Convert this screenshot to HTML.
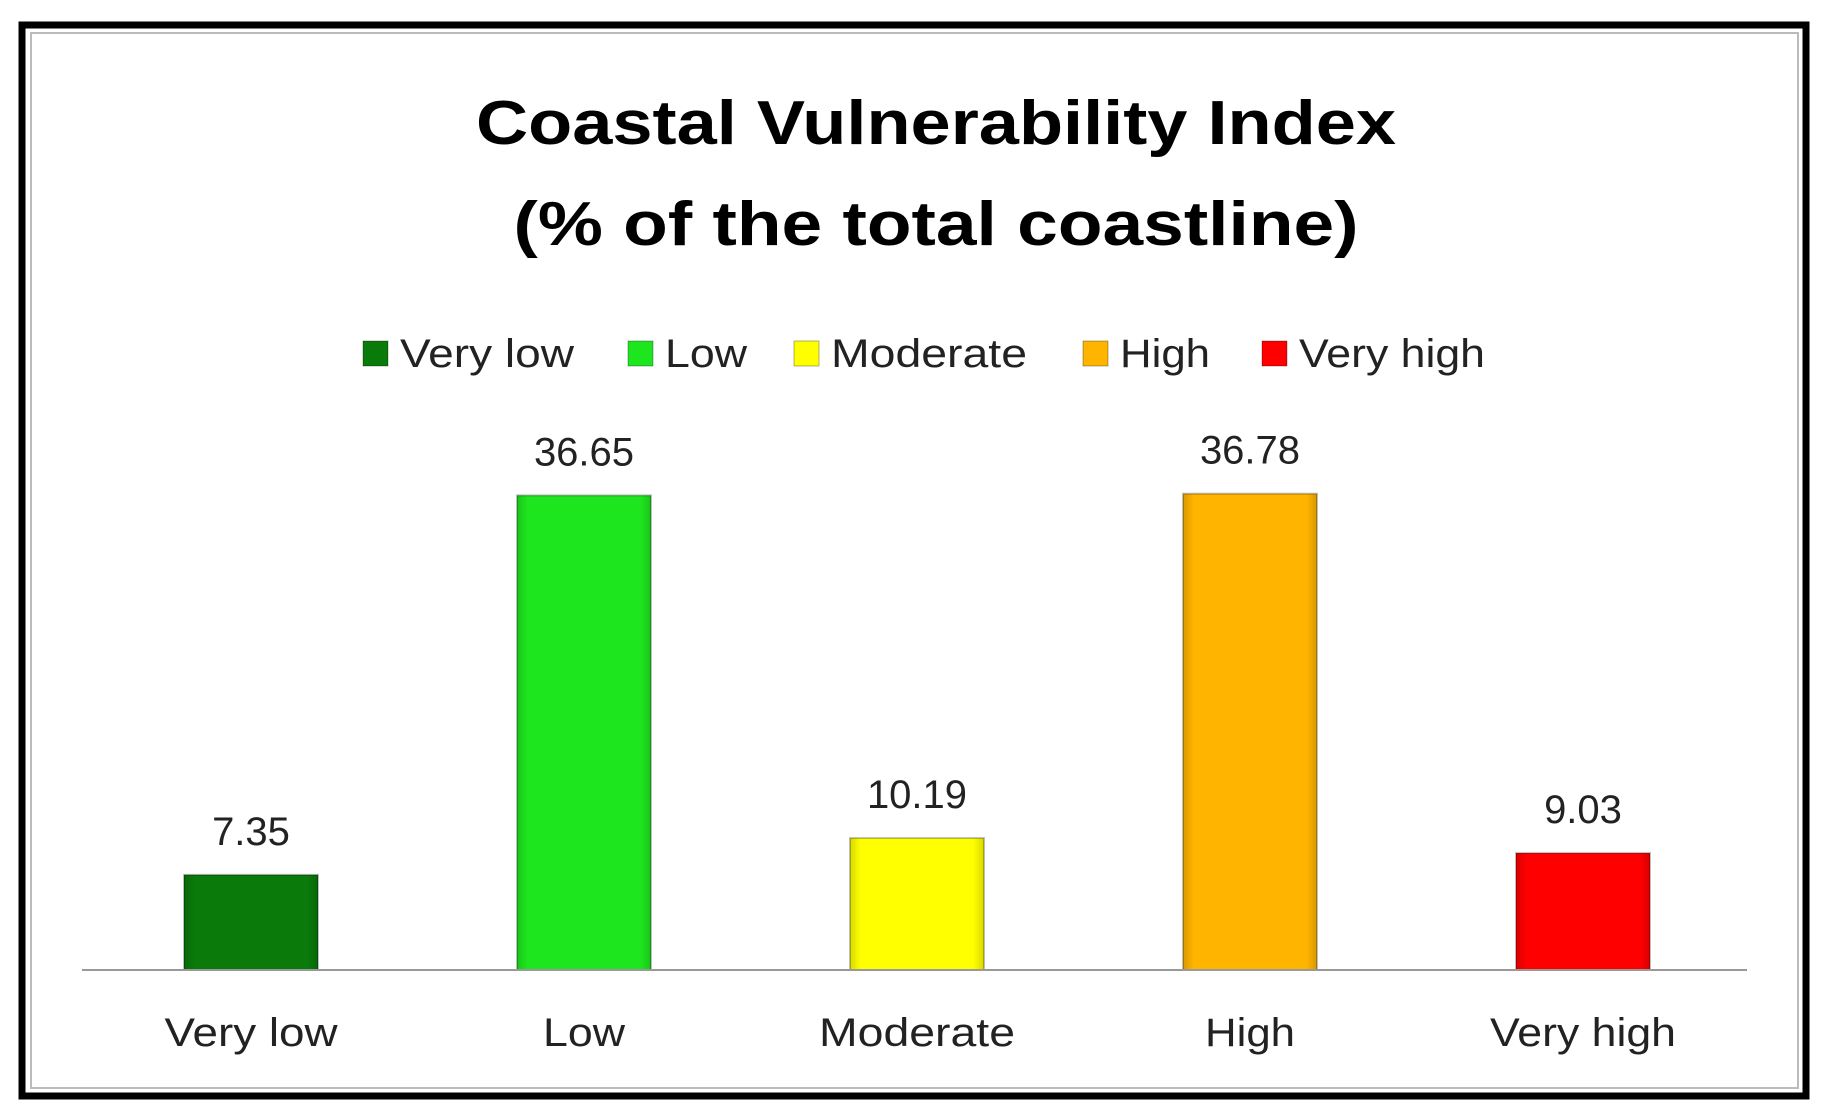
<!DOCTYPE html>
<html><head><meta charset="utf-8"><style>
html,body{margin:0;padding:0;background:#fff;}
svg{display:block;font-family:"Liberation Sans",sans-serif;}
</style></head><body>
<svg id="chart" width="1829" height="1115" viewBox="0 0 1829 1115">
<defs>
<linearGradient id="shade" x1="0" x2="1" y1="0" y2="0">
<stop offset="0" stop-color="#000" stop-opacity="0.15"/>
<stop offset="0.08" stop-color="#000" stop-opacity="0"/>
<stop offset="0.92" stop-color="#000" stop-opacity="0"/>
<stop offset="1" stop-color="#000" stop-opacity="0.15"/>
</linearGradient>
</defs>
<rect x="22" y="25" width="1784" height="1071" fill="#fff" stroke="#000" stroke-width="7"/>
<rect x="31" y="33" width="1767" height="1055" fill="none" stroke="#bbb" stroke-width="2"/>
<text x="936" y="144" text-anchor="middle" font-size="62" font-weight="bold" textLength="920" lengthAdjust="spacingAndGlyphs">Coastal Vulnerability Index</text>
<text x="936" y="245" text-anchor="middle" font-size="62" font-weight="bold" textLength="845" lengthAdjust="spacingAndGlyphs">(% of the total coastline)</text>
<g id="legend"></g>
<g id="bars"></g>
<line x1="82" y1="970" x2="1747" y2="970" stroke="#999" stroke-width="2"/>
</svg>
<script>
const categories = ["Very low","Low","Moderate","High","Very high"];
const values = [7.35,36.65,10.19,36.78,9.03];
const labels = ["7.35","36.65","10.19","36.78","9.03"];
const colors = ["#0a7a0a","#1ee61e","#ffff00","#ffb400","#ff0000"];
const legendX = [363,628,794,1083,1262];
const legendW = [174,82,196,90,186];
const catW = [173,82,196,90,186];
const NS="http://www.w3.org/2000/svg";
const x0=251, step=333, bw=134, baseY=970, pxPerUnit=12.95;
const xScale=i=>x0+i*step;
const yScale=v=>baseY-v*pxPerUnit;
const bars=document.getElementById('bars');
const legend=document.getElementById('legend');
function mk(t,a){const e=document.createElementNS(NS,t);for(const k in a)e.setAttribute(k,a[k]);return e;}
categories.forEach((c,i)=>{
  const cx=xScale(i), top=yScale(values[i]);
  const r=mk('rect',{x:cx-bw/2,y:top,width:bw,height:baseY-top,fill:colors[i],stroke:'rgba(0,0,0,0.25)','stroke-width':2});
  
  
  bars.appendChild(r);
  const sh=mk('rect',{x:cx-bw/2,y:top,width:bw,height:baseY-top,fill:'url(#shade)'});
  
  
  bars.appendChild(sh);
  const v=mk('text',{x:cx,y:top-30,'text-anchor':'middle','font-size':40,fill:'#222'});
  v.textContent=labels[i];
  
  
  bars.appendChild(v);
  const t=mk('text',{x:cx,y:1046,'text-anchor':'middle','font-size':40,fill:'#222',textLength:catW[i],lengthAdjust:'spacingAndGlyphs'});
  t.textContent=c;
  
  
  bars.appendChild(t);
  const s=mk('rect',{x:legendX[i],y:341,width:25,height:25,fill:colors[i],stroke:'rgba(0,0,0,0.3)','stroke-width':1});
  
  
  legend.appendChild(s);
  const lt=mk('text',{x:legendX[i]+37,y:367,'font-size':40,fill:'#222',textLength:legendW[i],lengthAdjust:'spacingAndGlyphs'});
  lt.textContent=c;
  
  
  legend.appendChild(lt);
});
</script>
</body></html>
